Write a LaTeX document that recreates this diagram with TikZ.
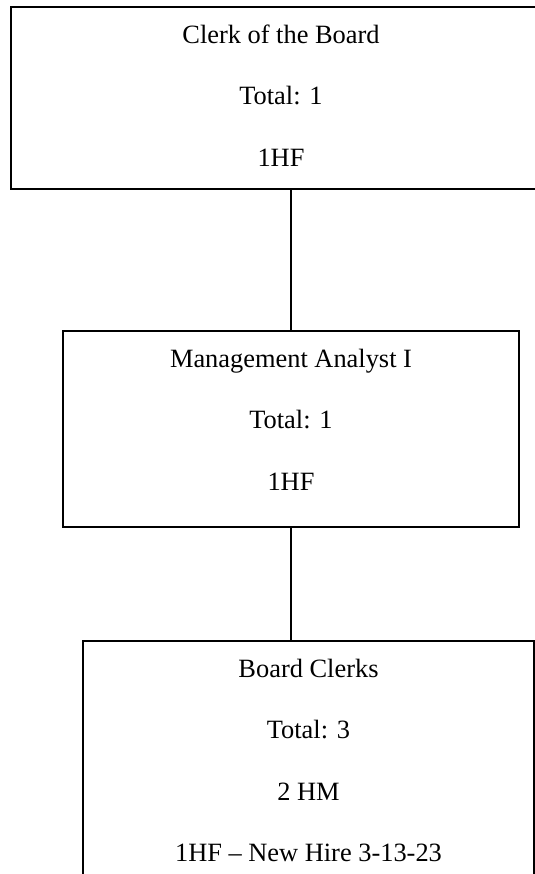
\documentclass[tikz,border=0pt]{standalone}
\usepackage{fontspec}
\setmainfont{Liberation Serif}
\newcommand{\firstln}{\rule{0pt}{18pt}}
\newcommand{\lastln}[1]{\rule[-#1]{0pt}{#1}}
\begin{document}
\begin{tikzpicture}[x=0.5pt, y=-0.5pt,
  obox/.style={draw, line width=1pt, anchor=north, align=center, inner xsep=0pt, inner ysep=0pt, font=\fontsize{13.2}{30.75}\selectfont},
  link/.style={draw, line width=1pt}
]
  \useasboundingbox (0,0) rectangle (535,874);
  \clip (0,0) rectangle (535,874);
  \node[obox, minimum width=270pt] (clerk) at (281,6) {\firstln Clerk of the Board\\Total: 1\\1HF\lastln{11.5pt}};
  \node[obox, minimum width=228pt] (analyst) at (291,330) {\firstln Management Analyst I\\Total: 1\\1HF\lastln{18.5pt}};
  \node[obox, minimum width=225.5pt] (clerks) at (308.5,640) {\firstln Board Clerks\\Total: 3\\2 HM\\1HF -- New Hire 3-13-23\lastln{18.5pt}};
  \draw[link] (analyst.north) -- (analyst.north |- clerk.south);
  \draw[link] (analyst.south) -- (analyst.south |- clerks.north);
\end{tikzpicture}
\end{document}
